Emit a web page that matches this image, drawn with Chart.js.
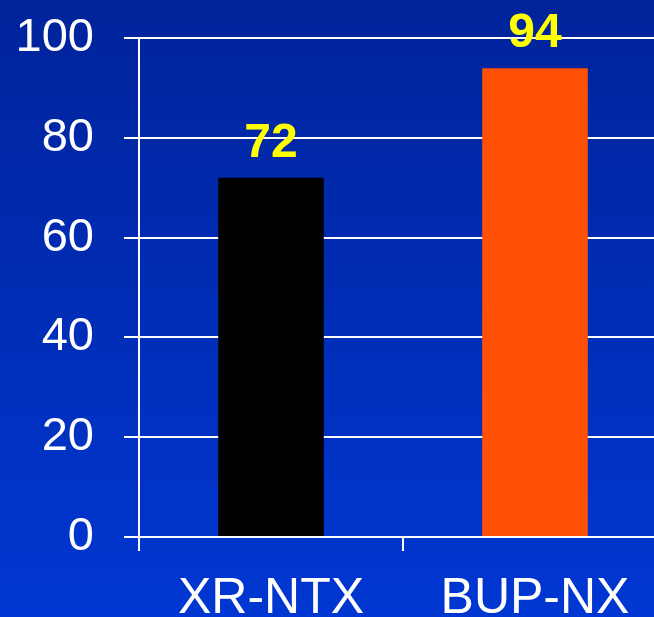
<!DOCTYPE html>
<html>
<head>
<meta charset="utf-8">
<script src="https://cdn.jsdelivr.net/npm/chart.js@4/dist/chart.umd.min.js"></script>
<style>
  html, body { margin: 0; padding: 0; overflow: hidden; background: #002a9e; }
  /* el lienzo sube 20px para que el 100 quede arriba */
  #grafico { display: block; margin-top: -20px; }
</style>
</head>
<body>
<canvas id="grafico" width="667" height="637"></canvas>
<script>
// datos del grafico
const categorias = ['XR-NTX', 'BUP-NX'];
const valores = [72, 94];
const coloresBarras = ['#000000', '#ff5005'];
const ticksY = [0, 20, 40, 60, 80, 100];

const fuente = '"Liberation Sans", Arial, sans-serif';

// fondo degradado azul
const fondoPlugin = {
  id: 'fondo',
  beforeDraw(chart) {
    const ctx = chart.ctx;
    const g = ctx.createLinearGradient(0, 20, 0, chart.height);
    g.addColorStop(0, '#00239a');
    g.addColorStop(1, '#0037d2');
    ctx.save();
    ctx.fillStyle = g;
    ctx.fillRect(0, 0, chart.width, chart.height);
    ctx.restore();
  }
};

// numero amarillo encima de cada barra
const etiquetasPlugin = {
  id: 'etiquetas',
  afterDatasetsDraw(chart) {
    const ctx = chart.ctx;
    const meta = chart.getDatasetMeta(0);
    ctx.save();
    ctx.font = 'bold 48px ' + fuente;
    ctx.fillStyle = '#ffff00';
    ctx.textAlign = 'center';
    ctx.textBaseline = 'alphabetic';
    meta.data.forEach(function (bar, i) {
      ctx.fillText(String(valores[i]), bar.x, bar.y - 21);
    });
    ctx.restore();
  }
};

document.addEventListener('DOMContentLoaded', function () {
  const canvas = document.getElementById('grafico').getContext('2d');
  const chart = new Chart(canvas, {
    type: 'bar',
    data: {
      labels: categorias,
      datasets: [{
        data: valores,
        backgroundColor: coloresBarras,
        borderWidth: 0,
        categoryPercentage: 1,
        barPercentage: 0.4
      }]
    },
    options: {
      responsive: false,
      animation: false,
      layout: { padding: { top: 17, right: 0, left: 0, bottom: 0 } },
      plugins: {
        legend: { display: false },
        tooltip: { enabled: false }
      },
      scales: {
        x: {
          offset: true,
          grid: {
            offset: true,
            drawOnChartArea: false,
            drawTicks: true,
            tickLength: 14,
            color: '#ffffff',
            lineWidth: 2
          },
          border: { display: true, color: '#ffffff', width: 2 },
          ticks: {
            color: '#ffffff',
            font: { family: fuente, size: 50 },
            padding: 18,
            maxRotation: 0
          },
          afterFit(scale) { scale.height = 80; }
        },
        y: {
          min: 0,
          max: 100,
          afterBuildTicks(scale) {
            scale.ticks = ticksY.map(function (v) { return { value: v }; });
          },
          grid: {
            color: '#ffffff',
            lineWidth: 2,
            drawTicks: true,
            tickLength: 15
          },
          border: { display: true, color: '#ffffff', width: 2 },
          ticks: {
            color: '#ffffff',
            font: { family: fuente, size: 47 },
            padding: 30
          },
          afterFit(scale) { scale.width = 139; }
        }
      }
    },
    plugins: [fondoPlugin, etiquetasPlugin]
  });
});
</script>
</body>
</html>
